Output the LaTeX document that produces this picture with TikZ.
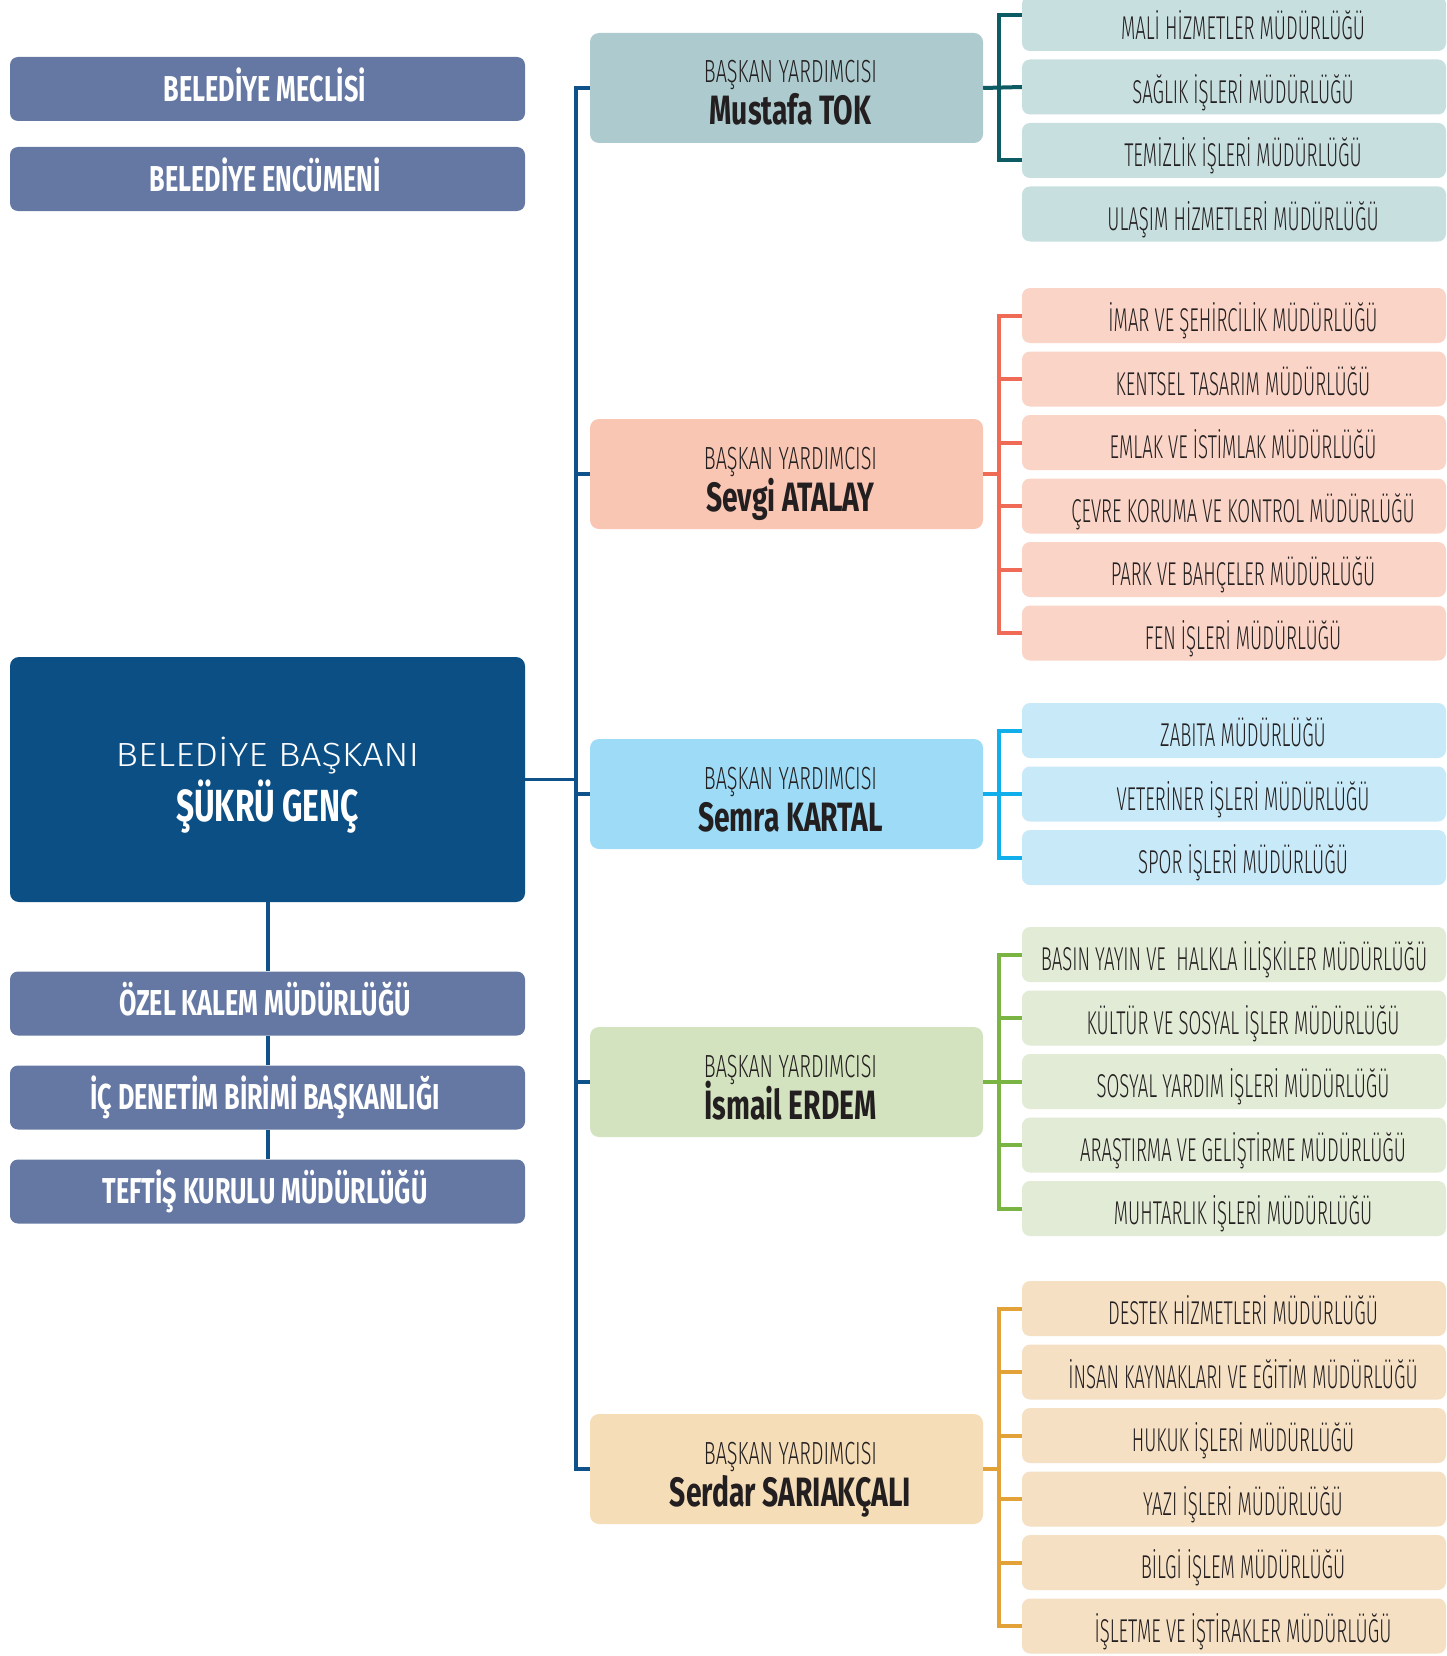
\documentclass[tikz,border=0pt]{standalone}
\usepackage{fontspec}
\setmainfont{Fira Sans}
\newfontfamily\rlight{Fira Sans}[UprightFont=* Light, FakeStretch=0.5625]
\newfontfamily\vlight{Fira Sans}[UprightFont=* Light, FakeStretch=0.62]
\newfontfamily\lbold{Fira Sans}[UprightFont=* Bold, FakeStretch=0.70]
\newfontfamily\nbold{Fira Sans}[UprightFont=* Bold, FakeStretch=0.69]
\newfontfamily\mbold{Fira Sans}[UprightFont=* Bold, FakeStretch=0.705]
\newfontfamily\mlight{Fira Sans}[UprightFont=* Light, FakeStretch=1.12]
\definecolor{leftpur}{HTML}{6578A4}
\definecolor{mayorblue}{HTML}{0B4F85}
\definecolor{trunkblue}{HTML}{0E5289}
\definecolor{txtdark}{HTML}{231F20}
\definecolor{tealVP}{HTML}{ADCBCE}\definecolor{tealR}{HTML}{C8DFE0}\definecolor{tealL}{HTML}{0D5C63}
\definecolor{salVP}{HTML}{F8C6B3}\definecolor{salR}{HTML}{FAD4C6}\definecolor{salL}{HTML}{EF6B55}
\definecolor{bluVP}{HTML}{9DDBF6}\definecolor{bluR}{HTML}{C8E9F8}\definecolor{bluL}{HTML}{10AEEA}
\definecolor{grnVP}{HTML}{D4E3BF}\definecolor{grnR}{HTML}{E2EBD5}\definecolor{grnL}{HTML}{7AB443}
\definecolor{orgVP}{HTML}{F5DDB8}\definecolor{orgR}{HTML}{F5E0C4}\definecolor{orgL}{HTML}{E2A238}
\tikzset{
  leftbox/.style={rectangle, rounded corners=8pt, fill=leftpur, minimum width=515pt, minimum height=64pt,
    inner sep=0pt, text=white, font=\lbold\fontsize{36}{40}\selectfont, text height=24.8pt, text depth=0pt,
    execute at begin node={\hspace*{-5pt}}},
  mayorbox/.style={rectangle, rounded corners=9pt, fill=mayorblue, minimum width=515pt, minimum height=245pt,
    inner sep=0pt, text=white},
  vpbox/.style={rectangle, rounded corners=9pt, fill=#1, minimum width=393pt, minimum height=110pt,
    inner sep=0pt, text=txtdark},
  rboxbase/.style={rectangle, rounded corners=8pt, fill=#1, minimum width=424pt, minimum height=55pt,
    inner sep=0pt, text=txtdark, font=\rlight\fontsize{33}{36}\selectfont, text height=32.8pt, text depth=0pt},
  rbox/.style={rboxbase=#1, execute at begin node={\hspace*{18pt}}},
  trunk/.style={draw=trunkblue, line width=3.5pt},
  br/.style={draw=#1, line width=4pt},
}
\newcommand{\vptext}[1]{\hspace*{8pt}\raisebox{0pt}[74pt][0pt]{\vbox{\baselineskip=42pt\lineskiplimit=-100pt
  \halign{\hfil##\hfil\cr\vlight\fontsize{32}{42}\selectfont BAŞKAN YARDIMCISI\cr
  \nbold\fontsize{41}{42}\selectfont #1\cr}}}}
\newcommand{\mayortext}{\raisebox{0pt}[84pt][0pt]{\vbox{\baselineskip=55pt\lineskiplimit=-100pt
  \halign{\hfil##\hfil\cr\mlight\fontsize{33.5}{40}\selectfont BELEDİYE BAŞKANI\cr
  \mbold\fontsize{45}{50}\selectfont ŞÜKRÜ GENÇ\cr}}}}
\begin{document}
\begin{tikzpicture}[x=1pt,y=-1pt]
\useasboundingbox[fill=white] (0,0) rectangle (1446,1656);
% left column
\node[leftbox] (meclis) at (267.5,89) {BELEDİYE MECLİSİ};
\node[leftbox] (encumen) at (267.5,179) {BELEDİYE ENCÜMENİ};
\node[mayorbox] (mayor) at (267.5,779.5) {\mayortext};
\node[leftbox] (ozel) at (267.5,1003.5) {ÖZEL KALEM MÜDÜRLÜĞÜ};
\node[leftbox] (icden) at (267.5,1097.5) {İÇ DENETİM BİRİMİ BAŞKANLIĞI};
\node[leftbox] (teftis) at (267.5,1191.5) {TEFTİŞ KURULU MÜDÜRLÜĞÜ};
% vice mayors
\node[vpbox=tealVP] (vp1) at (786.5,88) {\vptext{Mustafa TOK}};
\node[vpbox=salVP] (vp2) at (786.5,474) {\vptext{Sevgi ATALAY}};
\node[vpbox=bluVP] (vp3) at (786.5,794) {\vptext{Semra KARTAL}};
\node[vpbox=grnVP] (vp4) at (786.5,1082) {\vptext{İsmail ERDEM}};
\node[vpbox=orgVP] (vp5) at (786.5,1469) {\vptext{Serdar SARIAKÇALI}};
% directorates
\node[rbox=tealR] (a1) at (1234,23.5) {MALİ HİZMETLER MÜDÜRLÜĞÜ};
\node[rbox=tealR] (a2) at (1234,87) {SAĞLIK İŞLERİ MÜDÜRLÜĞÜ};
\node[rbox=tealR] (a3) at (1234,150.5) {TEMİZLİK İŞLERİ MÜDÜRLÜĞÜ};
\node[rbox=tealR] (a4) at (1234,214) {ULAŞIM HİZMETLERİ MÜDÜRLÜĞÜ};
\node[rbox=salR] (b1) at (1234,315.5) {İMAR VE ŞEHİRCİLİK MÜDÜRLÜĞÜ};
\node[rbox=salR] (b2) at (1234,379) {KENTSEL TASARIM MÜDÜRLÜĞÜ};
\node[rbox=salR] (b3) at (1234,442.5) {EMLAK VE İSTİMLAK MÜDÜRLÜĞÜ};
\node[rbox=salR] (b4) at (1234,506) {ÇEVRE KORUMA VE KONTROL MÜDÜRLÜĞÜ};
\node[rbox=salR] (b5) at (1234,569.5) {PARK VE BAHÇELER MÜDÜRLÜĞÜ};
\node[rbox=salR] (b6) at (1234,633) {FEN İŞLERİ MÜDÜRLÜĞÜ};
\node[rbox=bluR] (c1) at (1234,730.5) {ZABITA MÜDÜRLÜĞÜ};
\node[rbox=bluR] (c2) at (1234,794) {VETERİNER İŞLERİ MÜDÜRLÜĞÜ};
\node[rbox=bluR] (c3) at (1234,857.5) {SPOR İŞLERİ MÜDÜRLÜĞÜ};
\node[rboxbase=grnR] (d1) at (1234,954.5) {BASIN YAYIN VE\ \ HALKLA İLİŞKİLER MÜDÜRLÜĞÜ};
\node[rbox=grnR] (d2) at (1234,1018) {KÜLTÜR VE SOSYAL İŞLER MÜDÜRLÜĞÜ};
\node[rbox=grnR] (d3) at (1234,1081.5) {SOSYAL YARDIM İŞLERİ MÜDÜRLÜĞÜ};
\node[rbox=grnR] (d4) at (1234,1145) {ARAŞTIRMA VE GELİŞTİRME MÜDÜRLÜĞÜ};
\node[rbox=grnR] (d5) at (1234,1208.5) {MUHTARLIK İŞLERİ MÜDÜRLÜĞÜ};
\node[rbox=orgR] (e1) at (1234,1308.5) {DESTEK HİZMETLERİ MÜDÜRLÜĞÜ};
\node[rbox=orgR] (e2) at (1234,1372) {İNSAN KAYNAKLARI VE EĞİTİM MÜDÜRLÜĞÜ};
\node[rbox=orgR] (e3) at (1234,1435.5) {HUKUK İŞLERİ MÜDÜRLÜĞÜ};
\node[rbox=orgR] (e4) at (1234,1499) {YAZI İŞLERİ MÜDÜRLÜĞÜ};
\node[rbox=orgR] (e5) at (1234,1562.5) {BİLGİ İŞLEM MÜDÜRLÜĞÜ};
\node[rbox=orgR] (e6) at (1234,1626) {İŞLETME VE İŞTİRAKLER MÜDÜRLÜĞÜ};
% trunk
\coordinate (tx) at (576,0);
\coordinate (bx) at (999,0);
\draw[trunk, line width=4pt] (mayor.south) -- (ozel.north);
\draw[trunk, line width=4pt] (ozel.south) -- (icden.north);
\draw[trunk, line width=4pt] (icden.south) -- (teftis.north);
\draw[trunk] (mayor.east) -- (tx |- mayor.east);
\draw[trunk] (vp1.west) -- (tx |- vp1.west) -- (tx |- vp5.west) -- (vp5.west);
\foreach \v in {vp2,vp3,vp4}{\draw[trunk] (tx |- \v.west) -- (\v.west);}
% teal bracket
\draw[br=tealL] ([yshift=8.5pt]a1.west) -- ([yshift=8.5pt]bx |- a1.west) -- ([yshift=-10pt]bx |- a3.west) -- ([yshift=-10pt]a3.west);
\draw[br=tealL] (vp1.east) -- (a2.west);
% salmon bracket
\draw[br=salL] (b1.west) -- (bx |- b1.west) -- (bx |- b6.west) -- (b6.west);
\draw[br=salL] (vp2.east) -- (bx |- vp2.east);
\foreach \r in {b2,b3,b4,b5}{\draw[br=salL] (bx |- \r.west) -- (\r.west);}
% blue bracket
\draw[br=bluL] (c1.west) -- (bx |- c1.west) -- (bx |- c3.west) -- (c3.west);
\draw[br=bluL] (vp3.east) -- (c2.west);
% green bracket
\draw[br=grnL] (d1.west) -- (bx |- d1.west) -- (bx |- d5.west) -- (d5.west);
\draw[br=grnL] (vp4.east) -- (bx |- vp4.east);
\foreach \r in {d2,d3,d4}{\draw[br=grnL] (bx |- \r.west) -- (\r.west);}
% orange bracket
\draw[br=orgL] (e1.west) -- (bx |- e1.west) -- (bx |- e6.west) -- (e6.west);
\draw[br=orgL] (vp5.east) -- (bx |- vp5.east);
\foreach \r in {e2,e3,e4,e5}{\draw[br=orgL] (bx |- \r.west) -- (\r.west);}
\end{tikzpicture}
\end{document}
